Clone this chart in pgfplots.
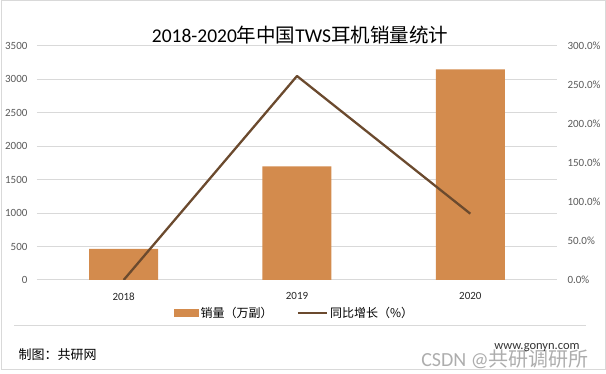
\documentclass[border=0pt]{standalone}
\usepackage{pgfplots}
\pgfplotsset{compat=1.18}
\usepackage{fontspec}
\setmainfont{Carlito}
\newfontfamily\cjk{Noto Sans CJK SC}
\definecolor{barc}{HTML}{D38B4D}
\definecolor{linec}{HTML}{6B4A2E}
\definecolor{gridc}{HTML}{D9D9D9}
\definecolor{tickc}{HTML}{595959}
\definecolor{xtc}{HTML}{262626}
\begin{document}
\begin{tikzpicture}[x=1pt,y=1pt]
\path[use as bounding box] (0,0) rectangle (606,374);
\draw[gridc, line width=1pt] (1,4.5) rectangle (605,373.5);
\draw[gridc, line width=1pt] (14,48) -- (586,48);
\begin{axis}[
  at={(37pt,94pt)}, anchor=south west, scale only axis,
  width=520pt, height=234pt,
  xmin=-0.5, xmax=2.5, ymin=0, ymax=3500,
  ytick={0,500,...,3500}, xtick={0,1,2}, xticklabels={2018,2019,2020},
  ymajorgrids, grid style={gridc, line width=1pt},
  axis line style={draw=none}, major tick length=0pt,
  /pgf/number format/assume math mode=true,
  /pgf/number format/1000 sep={},
  yticklabel style={font=\fontsize{11}{13}\selectfont, text=tickc, xshift=-6pt},
  xticklabel style={font=\fontsize{11}{13}\selectfont, text=xtc, yshift=-9pt},
  legend style={at={(axis description cs:0.495,-0.141)}, anchor=center, draw=none, fill=none,
    legend columns=2, font=\fontsize{12}{14}\selectfont\cjk,
    /tikz/every even column/.append style={column sep=22pt}},
  legend cell align=left,
]
\addplot[ybar, bar width=69pt, fill=barc, draw=none,
  legend image code/.code={\fill[barc] (0pt,-4pt) rectangle (25pt,4pt);}]
  coordinates {(0,465) (1,1700) (2,3150)};
\addlegendentry{销量（万副）}
\addlegendimage{legend image code/.code={\draw[linec, line width=2.5pt] (0pt,0pt) -- (29pt,0pt);}}
\addlegendentry{同比增长（\%）}
\end{axis}
\begin{axis}[
  at={(37pt,94pt)}, anchor=south west, scale only axis,
  width=520pt, height=234pt,
  xmin=-0.5, xmax=2.5, ymin=0, ymax=300,
  axis y line*=right, axis x line=none,
  ytick={0,50,...,300},
  axis line style={draw=none}, major tick length=0pt,
  /pgf/number format/assume math mode=true,
  yticklabel={\pgfmathprintnumber[fixed,fixed zerofill,precision=1]{\tick}\%},
  yticklabel style={font=\fontsize{11}{13}\selectfont, text=tickc, xshift=7pt},
]
\addplot[linec, line width=2.3pt, line join=round] coordinates {(0,0) (1,261.5) (2,85)};
\end{axis}
\node[font=\fontsize{19.5}{22}\selectfont] at (300,339) {2018-2020{\cjk 年中国}TWS{\cjk 耳机销量统计}};
\node[anchor=west, font=\fontsize{13}{15}\selectfont\cjk] at (15,19) {制图：共研网};
\node[font=\fontsize{20}{22}\selectfont, text=black!40, opacity=0.8] at (505,15) {CSDN @{\cjk 共研调研所}};
\node[font=\fontsize{12.5}{14}\selectfont, text=black!80] at (537,26) {www.gonyn.com};
\end{tikzpicture}
\end{document}
